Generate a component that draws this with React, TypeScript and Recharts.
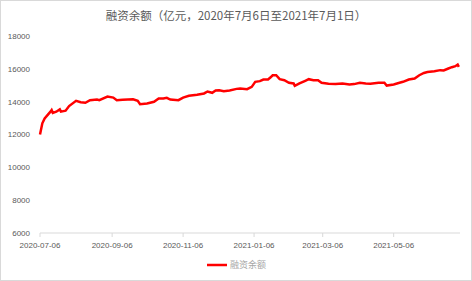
import { LineChart, Line, XAxis, YAxis, Legend } from "recharts";

document.body.style.margin = "0";

// 日期与融资余额（亿元）
const dates = [
  "2020-07-06", "2020-07-08", "2020-07-10", "2020-07-15", "2020-07-16", "2020-07-17",
  "2020-07-20", "2020-07-23", "2020-07-24", "2020-07-28", "2020-07-31", "2020-08-06",
  "2020-08-10", "2020-08-14", "2020-08-18", "2020-08-24", "2020-08-26", "2020-09-02",
  "2020-09-07", "2020-09-10", "2020-09-15", "2020-09-24", "2020-09-28", "2020-09-30",
  "2020-10-06", "2020-10-12", "2020-10-16", "2020-10-20", "2020-10-23", "2020-10-26",
  "2020-11-02", "2020-11-06", "2020-11-11", "2020-11-18", "2020-11-24", "2020-11-27",
  "2020-12-01", "2020-12-04", "2020-12-07", "2020-12-11", "2020-12-16", "2020-12-22",
  "2020-12-25", "2020-12-31", "2021-01-04", "2021-01-07", "2021-01-11", "2021-01-14",
  "2021-01-18", "2021-01-20", "2021-01-22", "2021-01-25", "2021-01-28", "2021-02-01",
  "2021-02-05", "2021-02-09", "2021-02-10", "2021-02-14", "2021-02-19", "2021-02-22",
  "2021-02-26", "2021-03-02", "2021-03-05", "2021-03-11", "2021-03-17", "2021-03-23",
  "2021-03-29", "2021-04-02", "2021-04-07", "2021-04-12", "2021-04-16", "2021-04-23",
  "2021-04-28", "2021-04-30", "2021-05-06", "2021-05-11", "2021-05-14", "2021-05-19",
  "2021-05-24", "2021-05-28", "2021-06-01", "2021-06-04", "2021-06-10", "2021-06-15",
  "2021-06-18", "2021-06-22", "2021-06-25", "2021-06-28", "2021-06-30", "2021-07-01",
];

const balance = [
  12000, 12680, 12980, 13390, 13490, 13320,
  13390, 13530, 13390, 13450, 13730, 14050,
  13970, 13930, 14090, 14130, 14090, 14310,
  14250, 14090, 14110, 14150, 14050, 13850,
  13890, 13990, 14190, 14190, 14230, 14130,
  14090, 14250, 14360, 14420, 14500, 14620,
  14540, 14680, 14700, 14640, 14680, 14780,
  14800, 14760, 14900, 15210, 15250, 15350,
  15350, 15470, 15610, 15610, 15370, 15310,
  15150, 15110, 14960, 15110, 15270, 15370,
  15310, 15310, 15150, 15090, 15070, 15110,
  15050, 15070, 15150, 15110, 15090, 15150,
  15150, 14980, 15050, 15150, 15210, 15350,
  15410, 15610, 15750, 15810, 15850, 15920,
  15900, 16020, 16100, 16160, 16260, 16120,
];

const xTicks = ["2020-07-06", "2020-09-06", "2020-11-06", "2021-01-06", "2021-03-06", "2021-05-06"];
const yTicks = [6000, 8000, 10000, 12000, 14000, 16000, 18000];

const toTime = (s: string) => {
  const [y, m, d] = s.split("-").map(Number);
  return Date.UTC(y, m - 1, d);
};

const fmtDate = (t: number) => new Date(t).toISOString().slice(0, 10);

const data = dates.map((d, i) => ({ t: toTime(d), value: balance[i] }));

const renderLegend = () => (
  <div style={{ display: "flex", justifyContent: "center", alignItems: "center" }}>
    <svg width={22} height={6} style={{ marginRight: 2 }}>
      <line x1={1} y1={3} x2={21} y2={3} stroke="#ff0000" strokeWidth={2.5} />
    </svg>
    <span style={{ fontFamily: "'Noto Sans CJK SC', sans-serif", fontSize: 9, color: "#a6a6a6" }}>融资余额</span>
  </div>
);

export default function App() {
  return (
    <div style={{ position: "relative", width: 472, height: 281, background: "#fff" }}>
      <LineChart width={472} height={281} data={data} margin={{ top: 36, right: 12, bottom: 28, left: 0 }}>
        <XAxis
          dataKey="t"
          type="number"
          scale="time"
          domain={[toTime("2020-07-06"), toTime("2021-07-02")]}
          ticks={xTicks.map(toTime)}
          tickFormatter={fmtDate}
          height={20}
          stroke="#d9d9d9"
          tickSize={4}
          tickMargin={5}
          tick={{ fill: "#595959", fontSize: 8, fontFamily: "'Liberation Sans', sans-serif" }}
        />
        <YAxis
          domain={[6000, 18000]}
          ticks={yTicks}
          width={40}
          axisLine={false}
          tickLine={false}
          tickSize={0}
          tickMargin={10}
          tick={{ fill: "#595959", fontSize: 8, fontFamily: "'Liberation Sans', sans-serif" }}
        />
        <Legend
          verticalAlign="middle"
          align="center"
          content={renderLegend}
          wrapperStyle={{ top: 258, left: 0, width: 472 }}
        />
        <Line
          type="linear"
          dataKey="value"
          name="融资余额"
          stroke="#ff0000"
          strokeWidth={2.5}
          dot={false}
          isAnimationActive={false}
        />
      </LineChart>
      <div
        style={{
          position: "absolute",
          top: 7,
          left: 0,
          width: 472,
          textAlign: "center",
          fontFamily: "'Noto Sans CJK SC', sans-serif",
          fontSize: 11.5,
          color: "#595959",
          lineHeight: "16px",
        }}
      >
        融资余额（亿元，2020年7月6日至2021年7月1日）
      </div>
      <div
        style={{
          position: "absolute",
          inset: 0,
          border: "1px solid #d9d9d9",
          pointerEvents: "none",
        }}
      />
    </div>
  );
}
